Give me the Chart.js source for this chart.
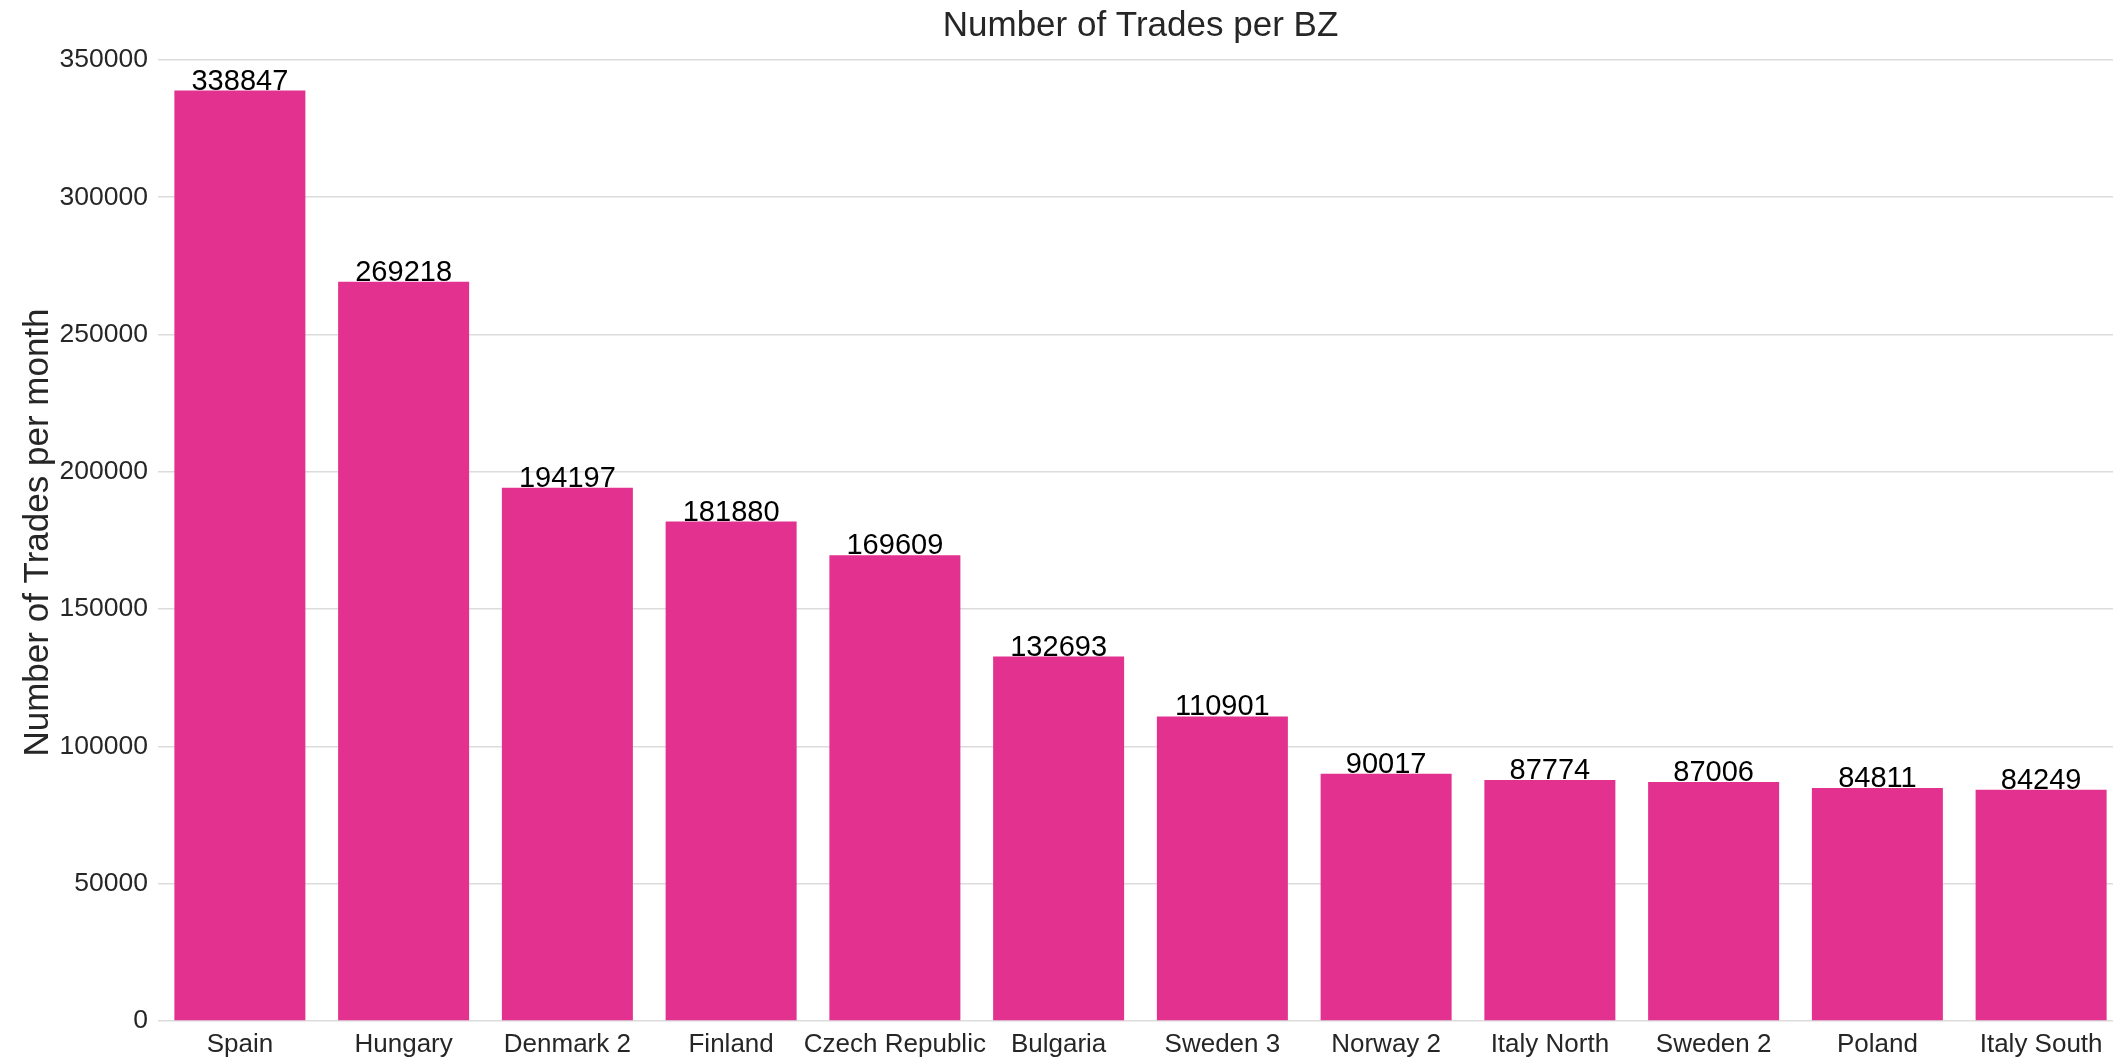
<!DOCTYPE html>
<html>
<head>
<meta charset="utf-8">
<title>Number of Trades per BZ</title>
<script src="https://cdn.jsdelivr.net/npm/chart.js@4.4.1/dist/chart.umd.min.js"></script>
<style>
  html, body { margin: 0; padding: 0; background: #ffffff; overflow: hidden; }
  #chart { display: block; }
</style>
</head>
<body>
<canvas id="chart" width="2124" height="1058"></canvas>
<script>
// bidding zones, sorted by trade count
const zones = ['Spain', 'Hungary', 'Denmark 2', 'Finland', 'Czech Republic', 'Bulgaria',
  'Sweden 3', 'Norway 2', 'Italy North', 'Sweden 2', 'Poland', 'Italy South'];
const trades = [338847, 269218, 194197, 181880, 169609, 132693, 110901, 90017, 87774, 87006, 84811, 84249];
const yTicks = [0, 50000, 100000, 150000, 200000, 250000, 300000, 350000];
const chartTitle = 'Number of Trades per BZ';

const FONT = 'Liberation Sans, Arial, sans-serif';
const TEXT = '#262626';

// value on top of every bar (no datalabels plugin offline)
const barValues = {
  id: 'barValues',
  afterDatasetsDraw(chart) {
    const ctx = chart.ctx;
    const meta = chart.getDatasetMeta(0);
    ctx.save();
    ctx.font = '29px ' + FONT;
    ctx.fillStyle = '#000000';
    ctx.textAlign = 'center';
    ctx.textBaseline = 'alphabetic';
    meta.data.forEach((bar, i) => {
      ctx.fillText(String(trades[i]), bar.x, bar.y - 1);
    });
    ctx.restore();
  }
};

// title centred over the plot area, not the whole canvas
const plotTitle = {
  id: 'plotTitle',
  afterDraw(chart) {
    const { ctx, chartArea } = chart;
    ctx.save();
    ctx.font = '35px ' + FONT;
    ctx.fillStyle = TEXT;
    ctx.textAlign = 'center';
    ctx.textBaseline = 'middle';
    ctx.fillText(chartTitle, (chartArea.left + chartArea.right) / 2, 26);
    ctx.restore();
  }
};

new Chart(document.getElementById('chart'), {
  type: 'bar',
  data: {
    labels: zones,
    datasets: [{
      data: trades,
      backgroundColor: '#e2318f',
      borderWidth: 0,
      categoryPercentage: 1.0,
      barPercentage: 0.8
    }]
  },
  options: {
    responsive: false,
    animation: false,
    layout: { padding: { left: 0, right: 1, top: 44, bottom: 0 } },
    plugins: {
      legend: { display: false },
      tooltip: { enabled: false },
      title: { display: false }
    },
    scales: {
      x: {
        grid: { display: false, drawTicks: false },
        border: { display: false },
        ticks: { color: TEXT, font: { family: FONT, size: 26 }, padding: 8, maxRotation: 0, autoSkip: false },
        afterFit(scale) { scale.height = 37; }
      },
      y: {
        min: 0,
        max: 355789,
        grid: { color: '#dcdcdc', lineWidth: 1.5, drawTicks: false },
        border: { display: false },
        ticks: {
          color: TEXT,
          font: { family: FONT, size: 26.5 },
          padding: 10,
          callback: (v) => String(v)
        },
        afterBuildTicks(scale) {
          scale.ticks = yTicks.map(v => ({ value: v }));
        },
        title: {
          display: true,
          text: 'Number of Trades per month',
          color: TEXT,
          font: { family: FONT, size: 35, lineHeight: 1.2 },
          padding: { top: 17, bottom: 0 }
        },
        afterFit(scale) { scale.width = 158; }
      }
    }
  },
  plugins: [barValues, plotTitle]
});
</script>
</body>
</html>
